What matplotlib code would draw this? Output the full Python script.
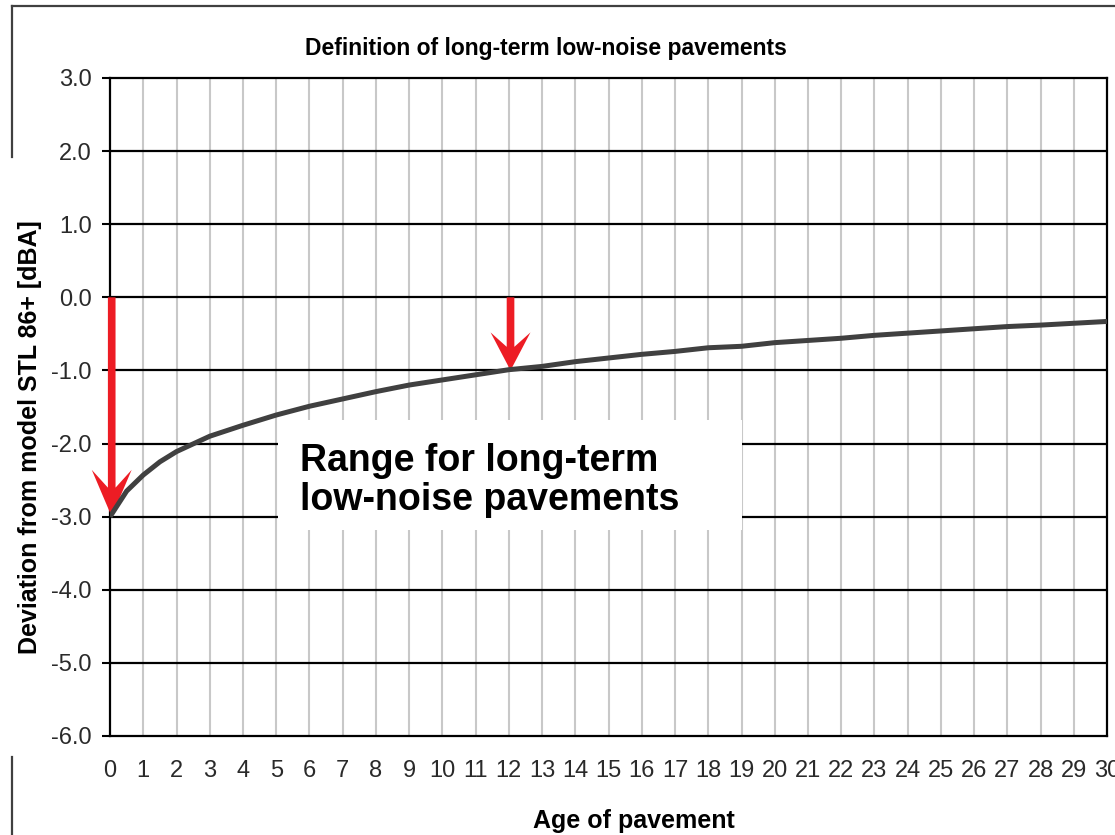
import matplotlib
matplotlib.use("Agg")
from matplotlib import pyplot as plt
from matplotlib.lines import Line2D
from matplotlib.patches import Rectangle
import numpy as np

plt.rcParams["font.family"] = ["Liberation Sans", "DejaVu Sans"]

# values
age = [0, 0.5, 1, 1.5, 2, 3, 4, 5, 6, 7, 8, 9, 10, 11, 12, 13, 14, 15, 16, 17, 18,
       19, 20, 21, 22, 23, 24, 25, 26, 27, 28, 29, 30]
deviation = [-3.0, -2.65, -2.43, -2.25, -2.11, -1.90, -1.75, -1.61, -1.49, -1.39, -1.29,
             -1.20, -1.13, -1.06, -0.99, -0.945, -0.88, -0.83, -0.78, -0.74, -0.69,
             -0.67, -0.62, -0.59, -0.56, -0.52, -0.49, -0.46, -0.43, -0.40, -0.38,
             -0.355, -0.33]
x_ticks = list(range(0, 31))
y_ticks = [-6, -5, -4, -3, -2, -1, 0, 1, 2, 3]
arrow_ages = [0, 12]
arrow_targets = [-3.0, -1.0]

fig = plt.figure(figsize=(11.15, 8.35), dpi=100)
ax = fig.add_axes([0.0987, 0.1186, 0.8942, 0.788])

ax.set_xlim(0, 30)
ax.set_ylim(-6, 3)
ax.set_xticks(x_ticks)
ax.set_yticks(y_ticks)
ax.set_yticklabels(["%.1f" % v for v in y_ticks])

# grid: gray vertical, black horizontal
for x in x_ticks[1:-1]:
    ax.axvline(x, color="#c8c8c8", lw=1.5, zorder=0.5)
for y in y_ticks[1:-1]:
    ax.axhline(y, color="black", lw=1.6, zorder=0.6)

for s in ax.spines.values():
    s.set_linewidth(1.6)
    s.set_color("black")

ax.tick_params(axis="y", length=6, width=1.5, pad=7, labelsize=17, labelcolor="#2a2a2a")
ax.tick_params(axis="x", length=0, pad=17, labelsize=17, labelcolor="#2a2a2a")

# the curve
ax.plot(age, deviation, color="#404040", lw=3.6, zorder=4, solid_capstyle="butt")

# red arrows from the 0 line down to the curve
for a, t in zip(arrow_ages, arrow_targets):
    hl = 0.64 if t < -2 else 0.52
    ax.arrow(a + 0.05, 0, 0, t, width=0.23, head_width=1.2, head_length=hl,
             overhang=0.38, length_includes_head=True, color="#ed1c24", lw=0,
             zorder=3, clip_on=False)

# white box with text
ax.add_patch(Rectangle((5.06, -3.18), 13.94, 1.5, facecolor="white", edgecolor="none", zorder=2))
ax.text(5.72, -2.51, "Range for long-term\nlow-noise pavements", fontsize=27,
        fontweight="bold", va="center", ha="left", linespacing=1.12, zorder=5)

fig.text(546 / 1115, 1 - 48 / 835, "Definition of long-term low-noise pavements",
         fontsize=16.5, fontweight="bold", ha="center", va="center")
fig.text(634 / 1115, 1 - 821 / 835, "Age of pavement", fontsize=18,
         fontweight="bold", ha="center", va="center")
fig.text(30 / 1115, 1 - 437 / 835, "Deviation from model STL 86+ [dBA]", fontsize=18,
         fontweight="bold", ha="center", va="center", rotation=90)

# outer frame of the picture, interrupted by the y label
def px(x, y):
    return x / 1115, 1 - y / 835

for (x0, y0), (x1, y1) in [((12, 6), (1115, 6)), ((12, 6), (12, 157)), ((12, 757), (12, 835))]:
    a0, b0 = px(x0, y0)
    a1, b1 = px(x1, y1)
    fig.add_artist(Line2D([a0, a1], [b0, b1], color="#404040", lw=1.6))

fig.savefig("out.png", dpi=100)
